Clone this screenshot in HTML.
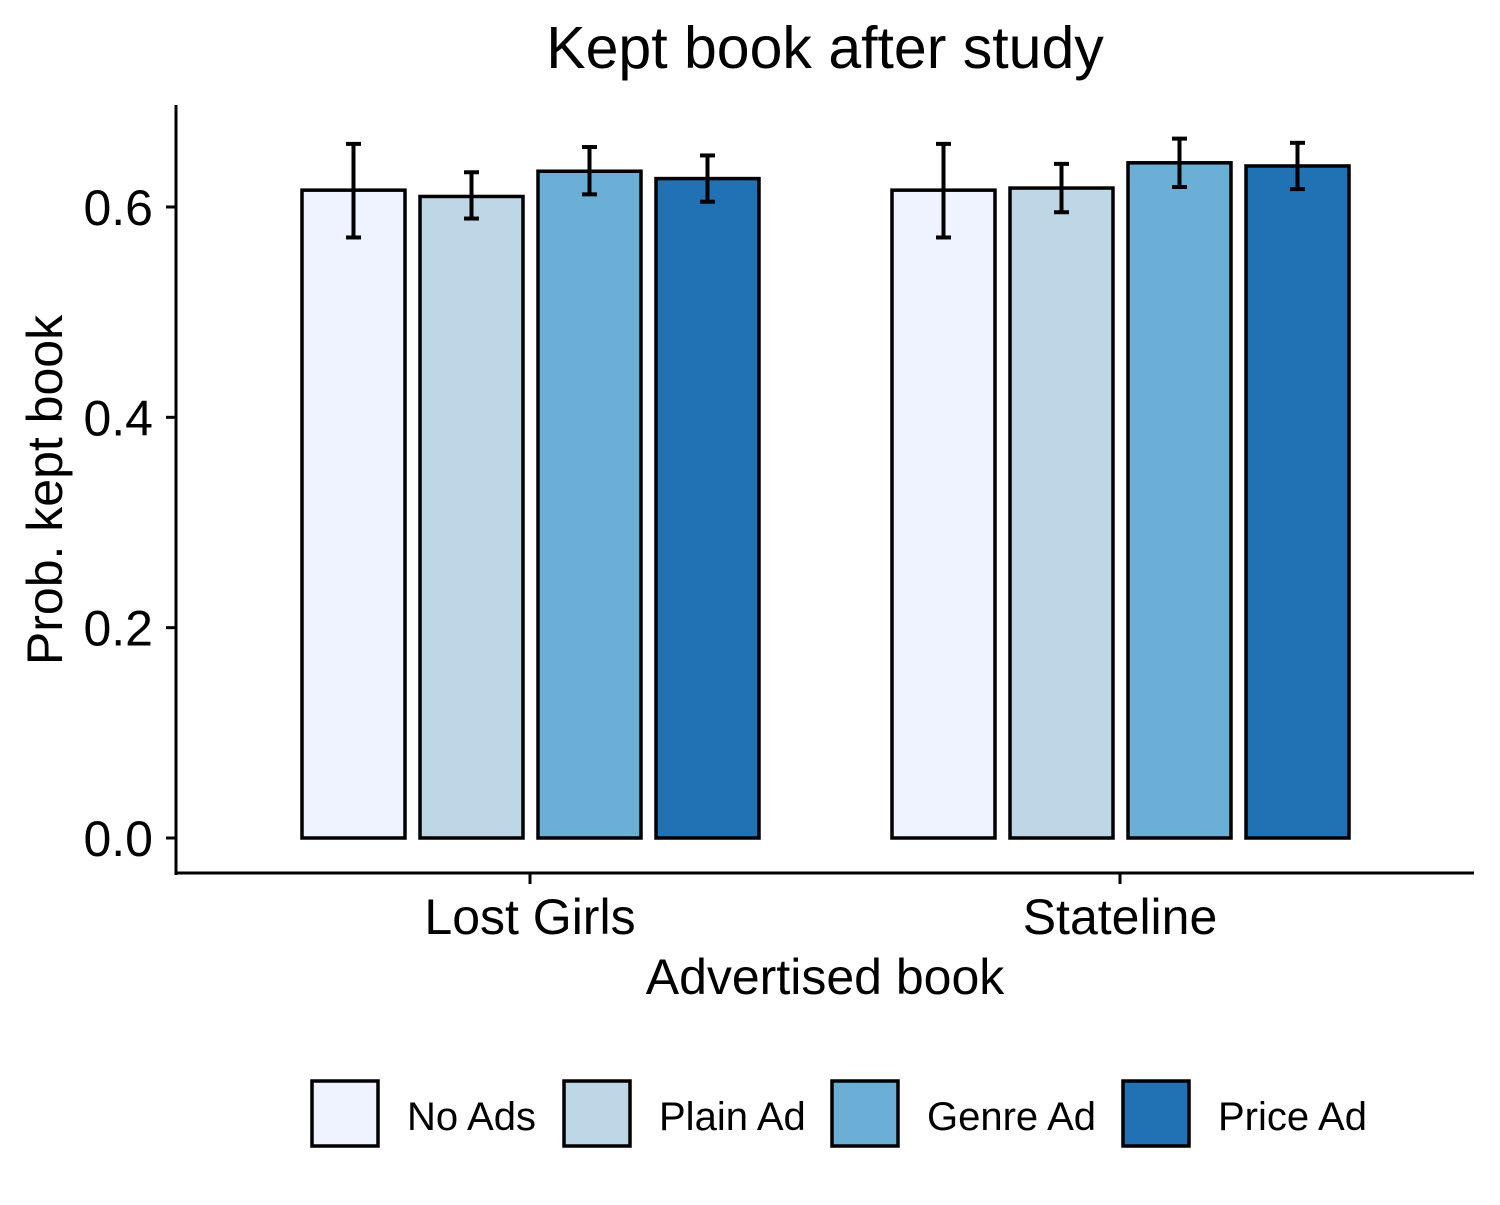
<!DOCTYPE html>
<html><head><meta charset="utf-8"><style>
body{margin:0;background:#fff}
svg text{font-family:"Liberation Sans",Arial,sans-serif;fill:#000}
</style></head><body>
<svg id="chart" width="1500" height="1200" viewBox="0 0 1500 1200" xmlns="http://www.w3.org/2000/svg">
<text x="825" y="68" font-size="59" text-anchor="middle">Kept book after study</text>
<g id="plot"></g>
<line x1="176" y1="105" x2="176" y2="875" stroke="#000" stroke-width="3"/>
<line x1="175" y1="873" x2="1474" y2="873" stroke="#000" stroke-width="3"/>
<g id="yticks"></g><g id="xticks"></g>
<text x="825" y="994" font-size="50" text-anchor="middle">Advertised book</text>
<text transform="translate(62,490) rotate(-90)" font-size="50" text-anchor="middle">Prob. kept book</text>
<g id="legend"></g>
</svg>
<script>
const groups=["Lost Girls","Stateline"];
const series=["No Ads","Plain Ad","Genre Ad","Price Ad"];
const colors=["#eff3ff","#bdd7e7","#6baed6","#2171b5"];
const valuesLostGirls=[0.616,0.610,0.634,0.627];
const valuesStateline=[0.616,0.618,0.642,0.639];
const lowLostGirls=[0.571,0.589,0.612,0.605];
const highLostGirls=[0.660,0.633,0.657,0.649];
const lowStateline=[0.571,0.595,0.619,0.617];
const highStateline=[0.660,0.641,0.665,0.661];
const yTicks=[0,0.2,0.4,0.6];
const tickLabels=["0.0","0.2","0.4","0.6"];
const NS="http://www.w3.org/2000/svg";
const y=v=>838-v*1051.7;
const groupCenter=i=>530+i*590;
const barX=(g,s)=>groupCenter(g)-228+s*118;
const vals=[valuesLostGirls,valuesStateline],lows=[lowLostGirls,lowStateline],highs=[highLostGirls,highStateline];
function mk(tag,attrs,parent){const e=document.createElementNS(NS,tag);for(const k in attrs)e.setAttribute(k,attrs[k]);parent.appendChild(e);return e;}
const plot=document.getElementById('plot');
groups.forEach((gname,g)=>{series.forEach((sname,s)=>{
 const v=vals[g][s],x=barX(g,s);
 const r=mk('rect',{x:x,y:y(v),width:103,height:y(0)-y(v),fill:colors[s],stroke:'#000','stroke-width':3.5},plot);
 
 
 const cx=x+51.5,eb=mk('g',{stroke:'#000','stroke-width':4},plot);
 
 
 mk('line',{x1:cx,x2:cx,y1:y(highs[g][s]),y2:y(lows[g][s])},eb);
 mk('line',{x1:cx-7.5,x2:cx+7.5,y1:y(highs[g][s]),y2:y(highs[g][s])},eb);
 mk('line',{x1:cx-7.5,x2:cx+7.5,y1:y(lows[g][s]),y2:y(lows[g][s])},eb);
});});
const yt=document.getElementById('yticks');
yTicks.forEach((t,i)=>{
 const l=mk('line',{x1:166,x2:176,y1:y(t),y2:y(t),stroke:'#000','stroke-width':3},yt);
 
 
 const tx=mk('text',{x:153,y:y(t)+18,'font-size':50,'text-anchor':'end'},yt);tx.textContent=tickLabels[i];
 
 
});
const xt=document.getElementById('xticks');
groups.forEach((gname,g)=>{
 const l=mk('line',{x1:groupCenter(g),x2:groupCenter(g),y1:873,y2:884,stroke:'#000','stroke-width':3},xt);
 
 
 const tx=mk('text',{x:groupCenter(g),y:934,'font-size':50,'text-anchor':'middle'},xt);tx.textContent=gname;
 
 
});
const lg=document.getElementById('legend');
const lx=[312,564,832,1123];
series.forEach((s,i)=>{
 const r=mk('rect',{x:lx[i],y:1081,width:66,height:65,fill:colors[i],stroke:'#000','stroke-width':3.5},lg);
 
 
 const t=mk('text',{x:lx[i]+95,y:1130,'font-size':40},lg);t.textContent=s;
 
 
});
</script>
</body></html>
